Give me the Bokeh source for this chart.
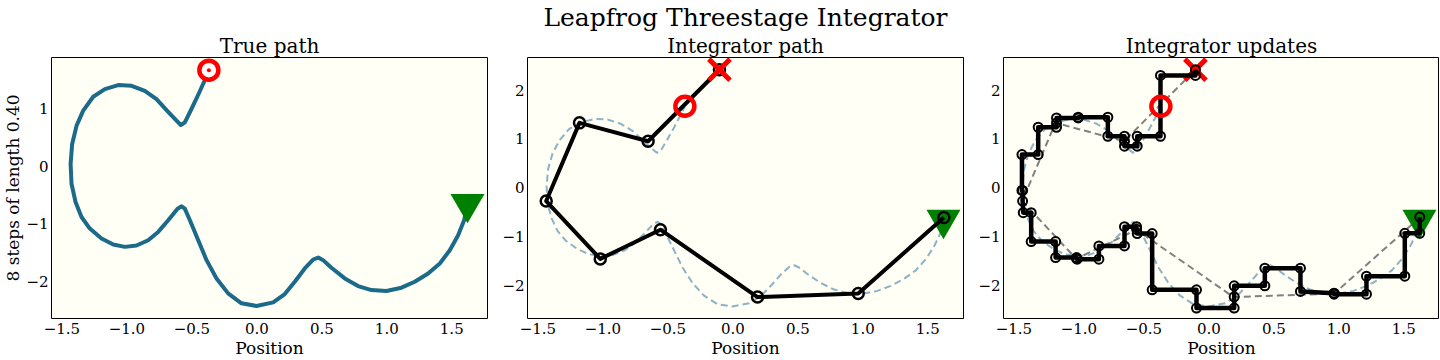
from bokeh.plotting import figure
from bokeh.models import Title, FixedTicker
from bokeh.layouts import row
from bokeh.embed import file_html
from bokeh.resources import INLINE

# ---------------- data ----------------
suptitle = "Leapfrog Threestage Integrator"
subtitles = ["True path", "Integrator path", "Integrator updates"]
xlabel = "Position"
ylabel = "8 steps of length 0.40"

# true (exact) trajectory, from start (triangle) to end (red circle)
true_q = [1.621, 1.595, 1.549, 1.485, 1.408, 1.318, 1.215, 1.113, 0.997, 0.882, 0.779, 0.677,
          0.574, 0.510, 0.472, 0.433, 0.369, 0.292, 0.215, 0.126, -0.003, -0.118, -0.221,
          -0.310, -0.387, -0.451, -0.515, -0.554, -0.579, -0.610, -0.682, -0.759, -0.836,
          -0.926, -1.015, -1.105, -1.195, -1.285, -1.349, -1.395, -1.426, -1.433, -1.421,
          -1.387, -1.336, -1.259, -1.169, -1.067, -0.964, -0.862, -0.772, -0.695, -0.618,
          -0.585, -0.554, -0.503, -0.451, -0.405, -0.369]
true_p = [-0.653, -0.942, -1.202, -1.462, -1.693, -1.866, -2.010, -2.114, -2.172, -2.155,
          -2.086, -1.953, -1.768, -1.635, -1.589, -1.624, -1.779, -2.010, -2.224, -2.369,
          -2.432, -2.386, -2.213, -1.953, -1.635, -1.288, -0.942, -0.739, -0.699, -0.739,
          -0.942, -1.144, -1.288, -1.381, -1.404, -1.363, -1.259, -1.086, -0.884, -0.624,
          -0.306, 0.040, 0.387, 0.705, 0.965, 1.207, 1.340, 1.410, 1.398, 1.311, 1.167,
          0.976, 0.791, 0.716, 0.763, 0.994, 1.242, 1.473, 1.670]

# integrator positions after each of the 8 steps
step_q = [1.624, 0.965, 0.190, -0.557, -1.020, -1.436, -1.180, -0.652, -0.103]
step_p = [-0.610, -2.168, -2.240, -0.860, -1.458, -0.273, 1.330, 0.954, 2.419]

# every sub-update of the three-stage integrator
upd_q = [1.623, 1.623, 1.508, 1.508, 1.213, 1.213, 0.964, 0.964, 0.964, 0.705, 0.705, 0.431,
         0.431, 0.195, 0.195, 0.195, -0.095, -0.095, -0.436, -0.436, -0.551, -0.556, -0.556,
         -0.649, -0.649, -0.846, -0.846, -1.013, -1.018, -1.018, -1.179, -1.179, -1.367,
         -1.367, -1.428, -1.433, -1.433, -1.438, -1.438, -1.313, -1.313, -1.172, -1.172,
         -1.172, -1.005, -1.005, -0.777, -0.777, -0.649, -0.649, -0.649, -0.551, -0.551,
         -0.372, -0.372, -0.103, -0.103]
upd_p = [-0.600, -0.934, -0.934, -1.813, -1.813, -2.181, -2.181, -2.167, -2.160, -2.126,
         -1.649, -1.649, -2.010, -2.010, -2.235, -2.467, -2.467, -2.092, -2.092, -0.940,
         -0.940, -0.852, -0.797, -0.797, -1.193, -1.193, -1.465, -1.465, -1.451, -1.431,
         -1.431, -1.104, -1.104, -0.511, -0.511, -0.273, -0.055, -0.055, 0.681, 0.681, 1.240,
         1.240, 1.329, 1.431, 1.431, 1.445, 1.445, 1.056, 1.056, 0.954, 0.852, 0.852, 1.056,
         1.056, 2.303, 2.303, 2.419]

xticks = [-1.5, -1.0, -0.5, 0.0, 0.5, 1.0, 1.5]
xtick_labels = ["\u22121.5", "\u22121.0", "\u22120.5", "0.0", "0.5", "1.0", "1.5"]
yticks_1 = [-2, -1, 0, 1]
ytick_labels_1 = ["\u22122", "\u22121", "0", "1"]
yticks_23 = [-2, -1, 0, 1, 2]
ytick_labels_23 = ["\u22122", "\u22121", "0", "1", "2"]

# ---------------- style ----------------
FONT = "DejaVu Serif"
BG = "#fffff5"
PATH_COLOR = "#1b6a8a"
PATH_LIGHT = "#8db2c3"
FW, FH = 436, 261


def make_fig(idx, y_range, yt, ytl, mbl, mbr, ylab=None):
    p = figure(frame_width=FW, frame_height=FH, x_range=(-1.58, 1.775), y_range=y_range,
               output_backend="svg", toolbar_location=None, title=None,
               min_border_left=mbl, min_border_right=mbr, min_border_top=0,
               min_border_bottom=0, background_fill_color=BG, border_fill_color="white")
    p.add_layout(Title(text=subtitles[idx], align="center", text_font=FONT,
                       text_font_size="20px", text_font_style="normal",
                       text_color="black", standoff=0), "above")
    p.add_layout(Title(text=suptitle if idx == 1 else " ", align="center", text_font=FONT,
                       text_font_size="25px", text_font_style="normal",
                       text_color="black", standoff=0), "above")
    p.outline_line_color = "black"
    p.outline_line_alpha = 1
    p.outline_line_width = 1
    p.grid.visible = False
    for ax in (p.xaxis[0], p.yaxis[0]):
        ax.axis_line_color = None
        ax.major_tick_line_color = None
        ax.minor_tick_line_color = None
        ax.major_tick_out = 0
        ax.major_tick_in = 0
        ax.minor_tick_out = 0
        ax.minor_tick_in = 0
        ax.major_label_text_font = FONT
        ax.major_label_text_font_size = "15px"
        ax.major_label_text_color = "black"
        ax.axis_label_text_font = FONT
        ax.axis_label_text_font_size = "17px"
        ax.axis_label_text_font_style = "normal"
        ax.axis_label_text_color = "black"
        ax.major_label_standoff = 4
        ax.axis_label_standoff = 1
    p.yaxis.major_label_standoff = 3
    p.yaxis.axis_label_standoff = 0
    p.xaxis.ticker = FixedTicker(ticks=xticks)
    p.xaxis.major_label_overrides = {t: l for t, l in zip(xticks, xtick_labels)}
    p.xaxis.axis_label = xlabel
    p.yaxis.ticker = FixedTicker(ticks=yt)
    p.yaxis.major_label_overrides = {t: l for t, l in zip(yt, ytl)}
    if ylab:
        p.yaxis.axis_label = ylab
    return p


# Panel 1: true path
p1 = make_fig(0, (-2.65, 1.89), yticks_1, ytick_labels_1, 30, 6, ylab=ylabel)
p1.line(true_q, true_p, line_color=PATH_COLOR, line_width=4, line_join="round", line_cap="round")
p1.scatter([true_q[-1]], [true_p[-1]], marker="circle", size=19, fill_color="white",
           line_color="red", line_width=4.5)
p1.scatter([true_q[-1]], [true_p[-1]], marker="circle", size=4, fill_color="red",
           line_color="red", line_width=0)
p1.scatter([true_q[0]], [true_p[0]], marker="inverted_triangle", size=34,
           fill_color="#008000", line_color=None)

# Panel 2: integrator path
p2 = make_fig(1, (-2.68, 2.67), yticks_23, ytick_labels_23, 34, 5)
p2.line(true_q, true_p, line_color=PATH_LIGHT, line_width=2, line_dash="7 4")
p2.scatter([true_q[0]], [true_p[0]], marker="inverted_triangle", size=34,
           fill_color="#008000", line_color=None)
p2.line(step_q, step_p, line_color="black", line_width=4, line_join="round")
p2.scatter(step_q, step_p, marker="circle", size=11, fill_color=None,
           line_color="black", line_width=2.5)
p2.scatter([true_q[-1]], [true_p[-1]], marker="circle", size=19, fill_color=None,
           line_color="red", line_width=4.5)
p2.scatter([step_q[-1]], [step_p[-1]], marker="x", size=30, line_color="red", line_width=5)

# Panel 3: integrator updates
p3 = make_fig(2, (-2.68, 2.67), yticks_23, ytick_labels_23, 35, 0)
p3.line(true_q, true_p, line_color=PATH_LIGHT, line_width=2, line_dash="7 4")
p3.line(step_q, step_p, line_color="#808080", line_width=2, line_dash="7 4")
p3.scatter([true_q[0]], [true_p[0]], marker="inverted_triangle", size=34,
           fill_color="#008000", line_color=None)
p3.scatter([step_q[-1]], [step_p[-1]], marker="x", size=30, line_color="red", line_width=5)
p3.line(upd_q, upd_p, line_color="black", line_width=4.5, line_join="round")
p3.scatter(upd_q, upd_p, marker="circle", size=9, fill_color=None,
           line_color="black", line_width=2)
p3.scatter([true_q[-1]], [true_p[-1]], marker="circle", size=19, fill_color=None,
           line_color="red", line_width=4.5)

layout = row(p1, p2, p3, spacing=0)
open("out.html", "w").write(file_html(layout, INLINE))
